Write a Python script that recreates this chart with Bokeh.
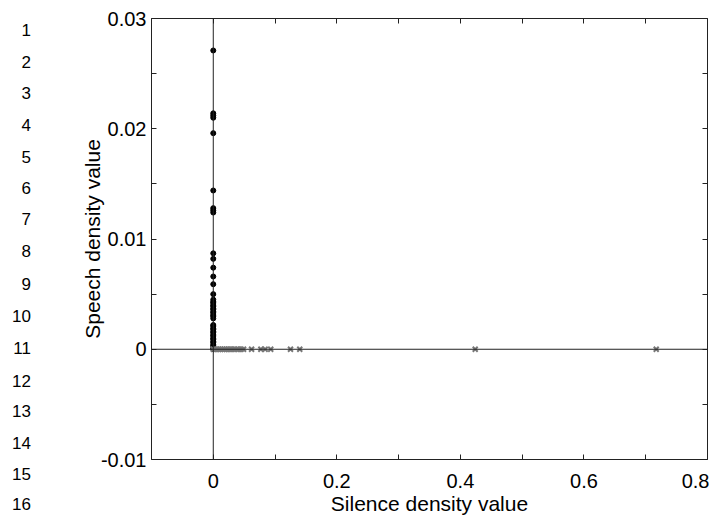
from bokeh.plotting import figure
from bokeh.models import FixedTicker, Span, Range1d, LinearAxis, CustomJSTickFormatter, Div
from bokeh.layouts import row
from bokeh.embed import file_html
from bokeh.resources import INLINE

# ---- data ----
speech_y = [0.0271, 0.0214, 0.0212, 0.0210, 0.0196, 0.0144, 0.0128, 0.0126, 0.0124,
            0.0087, 0.0082, 0.0074, 0.0066, 0.0059, 0.0050,
            0.0045, 0.0043, 0.0042, 0.0040, 0.0039, 0.0037, 0.0036, 0.0034, 0.0033,
            0.0031, 0.0030, 0.0028,
            0.0022, 0.0021, 0.0019, 0.0018, 0.0016, 0.0015, 0.0013, 0.0012, 0.0010,
            0.0009, 0.0007, 0.0006, 0.0004, 0.0003, 0.0001, 0.0]
speech_x = [0.0] * len(speech_y)

silence_x = [0.000, 0.003, 0.006, 0.009, 0.012, 0.015, 0.018, 0.021, 0.024, 0.027,
             0.030, 0.034, 0.038, 0.041, 0.045, 0.049, 0.062, 0.077, 0.084, 0.093,
             0.125, 0.140, 0.424, 0.717]
silence_y = [0.0] * len(silence_x)

x_ticks = [0, 0.2, 0.4, 0.6, 0.8]
x_minor = [-0.1, 0.1, 0.3, 0.5, 0.7]
y_ticks = [-0.01, 0, 0.01, 0.02, 0.03]
y_minor = [-0.005, 0.005, 0.015, 0.025]
line_numbers = [str(i) for i in range(1, 17)]

# layout of the manuscript line-number margin (pixel positions of line centres, not data)
line_number_px = [31, 63, 94, 126, 158, 189, 220, 252, 285, 317, 348.5, 382, 412, 444, 475, 505]

FONT = "Liberation Sans"
H = 517
LW = 40

# ---- left margin: manuscript line numbers ----
spans = "".join(
    f'<span style="position:absolute;right:9px;top:{cy - 10}px;line-height:20px;">{t}</span>'
    for t, cy in zip(line_numbers, line_number_px))
ln = Div(text=f'<div style="position:relative;width:{LW}px;height:{H}px;'
              f'font-family:\'{FONT}\',Arial,sans-serif;font-size:17px;color:black;">{spans}</div>',
         width=LW, height=H, margin=0)

# ---- main chart ----
p = figure(width=669, height=H, output_backend="svg", toolbar_location=None,
           x_range=Range1d(-0.1, 0.8), y_range=Range1d(-0.01, 0.03),
           min_border_left=111, min_border_right=2, min_border_top=18, min_border_bottom=58)
p.grid.visible = False
p.outline_line_color = "#222222"
p.outline_line_width = 1

plain = CustomJSTickFormatter(code="return tick.toString()")
blank = CustomJSTickFormatter(code="return ''")

def style_axis(ax):
    ax.axis_line_color = None
    ax.major_tick_in = 5
    ax.major_tick_out = 0
    ax.minor_tick_in = 5
    ax.minor_tick_out = 0
    ax.major_tick_line_color = "#222222"
    ax.minor_tick_line_color = "#222222"
    ax.major_label_text_font = FONT
    ax.major_label_text_font_size = "20px"
    ax.major_label_text_color = "black"
    ax.axis_label_text_font = FONT
    ax.axis_label_text_font_size = "21px"
    ax.axis_label_text_font_style = "normal"
    ax.axis_label_text_color = "black"

xa = p.xaxis[0]
ya = p.yaxis[0]
xa.ticker = FixedTicker(ticks=x_ticks, minor_ticks=x_minor)
ya.ticker = FixedTicker(ticks=y_ticks, minor_ticks=y_minor)
style_axis(xa)
style_axis(ya)
xa.formatter = plain
ya.formatter = plain
xa.axis_label = "Silence density value"
ya.axis_label = "Speech density value"
xa.major_label_standoff = 14
ya.major_label_standoff = 5
xa.axis_label_standoff = 1
xa.axis_label_text_line_height = 0.8
ya.axis_label_standoff = -6

top = LinearAxis(ticker=FixedTicker(ticks=x_ticks, minor_ticks=x_minor), formatter=blank)
right = LinearAxis(ticker=FixedTicker(ticks=y_ticks, minor_ticks=y_minor), formatter=blank)
style_axis(top)
style_axis(right)
top.major_label_standoff = 0
right.major_label_standoff = 0
p.add_layout(top, "above")
p.add_layout(right, "right")

p.add_layout(Span(location=0, dimension="width", line_color="#222222", line_width=1))
p.add_layout(Span(location=0, dimension="height", line_color="#222222", line_width=1))

p.scatter(speech_x, speech_y, marker="circle", size=5, fill_color="black", line_color="black")
p.scatter(silence_x, silence_y, marker="x", size=7, line_color="#777777", line_width=2)

layout = row(ln, p)
open("out.html", "w").write(file_html(layout, INLINE))
